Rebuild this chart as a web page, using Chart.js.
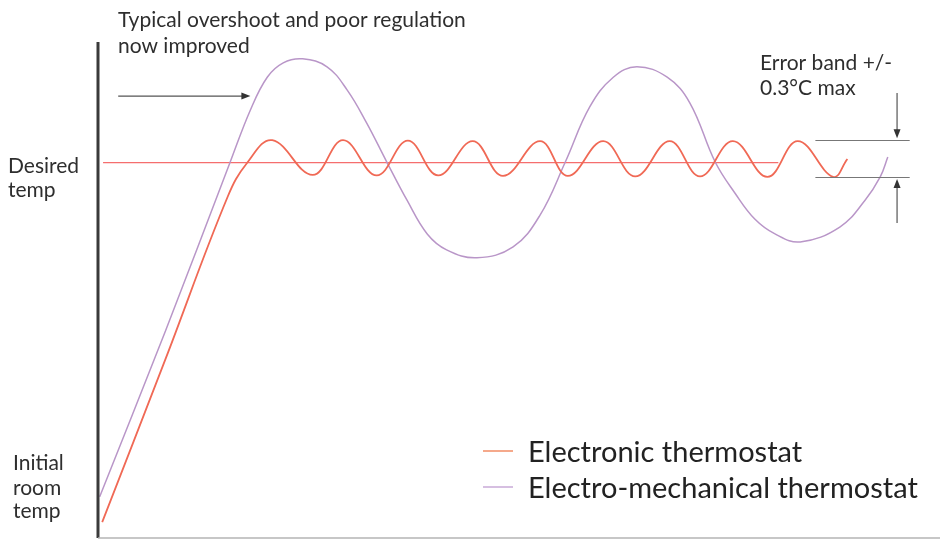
<!DOCTYPE html>
<html>
<head>
<meta charset="utf-8">
<script src="https://cdn.jsdelivr.net/npm/chart.js@4"></script>
<style>
html, body { margin: 0; padding: 0; background: #fff; }
#wrap { width: 940px; height: 541px; }
</style>
</head>
<body>
<div id="wrap"><canvas id="myLineChart" width="940" height="541"></canvas></div>
<script>
// time runs 0..100 along the bottom, temperature 0..100 up the side (arbitrary units)
var electronicTime = [0.5, 8.0, 15.4, 17.7, 20.7, 25.5, 29.1, 33.1, 36.8, 40.4, 44.5, 48.1, 52.5, 55.8, 60.0, 63.8, 67.9, 71.5, 75.4, 79.5, 83.1, 87.3, 89.0];
var electronicTemp = [3.2, 36.0, 68.8, 75.6, 80.2, 73.2, 80.2, 73.1, 80.1, 73.1, 80.0, 73.0, 80.0, 73.0, 80.0, 72.9, 80.0, 72.9, 80.0, 72.8, 80.0, 72.8, 76.4];

var mechanicalTime = [0.2, 8.0, 15.7, 18.1, 20.1, 22.0, 24.3, 27.2, 29.6, 31.9, 34.3, 36.7, 39.1, 41.4, 45.0, 49.3,
	52.5, 55.5, 58.4, 61.2, 64.0, 67.6, 70.3, 73.3, 75.7, 78.0, 80.4, 83.4, 88.1, 91.1, 92.9, 93.8];
var mechanicalTemp = [8.3, 41.7, 75.8, 86.3, 92.9, 95.8, 96.6, 95.0, 90.3, 83.7, 75.8, 68.1, 61.3, 58.1, 56.5, 58.7,
	65.1, 75.8, 86.9, 92.9, 95.0, 92.9, 87.7, 75.8, 69.4, 64.3, 61.3, 59.7, 62.7, 68.1, 72.8, 76.8];

var desiredTime = [0.6, 80.8];
var desiredTemp = [75.7, 75.7];

var errorBand = [72.8, 80.2];
var seriesLabels = ['Electronic thermostat', 'Electro-mechanical thermostat'];
var axisLabels = [['Desired', 'temp'], ['Initial', 'room', 'temp']];

function toPoints(xs, ys) {
	return xs.map(function (x, i) { return { x: x, y: ys[i] }; });
}

function arrow(c, x1, y1, x2, y2) {
	var ang = Math.atan2(y2 - y1, x2 - x1);
	c.beginPath();
	c.moveTo(x1, y1);
	c.lineTo(x2 - 6 * Math.cos(ang), y2 - 6 * Math.sin(ang));
	c.stroke();
	c.beginPath();
	c.moveTo(x2, y2);
	c.lineTo(x2 - 9 * Math.cos(ang) + 3.5 * Math.sin(ang), y2 - 9 * Math.sin(ang) - 3.5 * Math.cos(ang));
	c.lineTo(x2 - 9 * Math.cos(ang) - 3.5 * Math.sin(ang), y2 - 9 * Math.sin(ang) + 3.5 * Math.cos(ang));
	c.closePath();
	c.fill();
}

var overlay = {
	id: 'overlay',
	afterDatasetsDraw: function (chart) {
		var c = chart.ctx, a = chart.chartArea, xs = chart.scales.x, ys = chart.scales.y;
		c.save();
		// axes
		c.strokeStyle = '#3a3a3a';
		c.lineWidth = 3;
		c.beginPath(); c.moveTo(a.left, a.top); c.lineTo(a.left, a.bottom); c.stroke();
		c.strokeStyle = '#b4b4b4';
		c.lineWidth = 1.5;
		c.beginPath(); c.moveTo(a.left, a.bottom); c.lineTo(a.right, a.bottom); c.stroke();

		// error band
		c.strokeStyle = '#777';
		c.fillStyle = '#333';
		c.lineWidth = 1.2;
		var bx1 = xs.getPixelForValue(85.2), bx2 = xs.getPixelForValue(96.4), ax = xs.getPixelForValue(94.9);
		errorBand.forEach(function (v) {
			var y = Math.round(ys.getPixelForValue(v)) + 0.5;
			c.beginPath(); c.moveTo(bx1, y); c.lineTo(bx2, y); c.stroke();
		});
		c.strokeStyle = '#555';
		arrow(c, ax, ys.getPixelForValue(89.7), ax, ys.getPixelForValue(errorBand[1]) - 2);
		arrow(c, ax, ys.getPixelForValue(63.5), ax, ys.getPixelForValue(errorBand[0]) + 2);
		// overshoot arrow
		arrow(c, xs.getPixelForValue(2.4), ys.getPixelForValue(89.1), xs.getPixelForValue(18.1), ys.getPixelForValue(89.1));

		// notes
		c.fillStyle = '#2e2e2e';
		c.font = '21px Lato';
		c.textBaseline = 'alphabetic';
		c.fillText('Typical overshoot and poor regulation', 118, 27);
		c.fillText('now improved', 118, 53);
		c.fillText('Error band +/-', 760, 70);
		c.fillText('0.3\u00B0C max', 760, 95);
		c.fillText(axisLabels[0][0], 8, 173);
		c.fillText(axisLabels[0][1], 8, 197);
		c.fillText(axisLabels[1][0], 13, 470);
		c.fillText(axisLabels[1][1], 13, 495);
		c.fillText(axisLabels[1][2], 13, 518);

		// legend
		var legendY = [451, 487];
		c.font = '29px Lato';
		chart.data.datasets.slice(0, 2).forEach(function (ds, i) {
			c.strokeStyle = ds.legendColor;
			c.lineWidth = 1.5;
			c.beginPath(); c.moveTo(483, legendY[i]); c.lineTo(513, legendY[i]); c.stroke();
			c.fillStyle = '#222';
			c.fillText(seriesLabels[i], 528, legendY[i] + 11);
		});
		c.restore();
	}
};

var ctx = document.getElementById('myLineChart');
var myLineChart = new Chart(ctx, {
	type: 'line',
	data: {
		datasets: [
			{
				label: seriesLabels[0],
				data: toPoints(electronicTime, electronicTemp),
				borderColor: 'rgb(240,105,85)',
				legendColor: 'rgb(242,140,100)',
				borderWidth: 1.8,
				pointRadius: 0,
				tension: 0.4,
			},
			{
				label: seriesLabels[1],
				data: toPoints(mechanicalTime, mechanicalTemp),
				borderColor: 'rgb(185,150,200)',
				legendColor: 'rgb(200,170,215)',
				borderWidth: 1.5,
				pointRadius: 0,
				tension: 0.4,
			},
			{
				label: 'Desired temp',
				data: toPoints(desiredTime, desiredTemp),
				borderColor: 'rgb(245,110,110)',
				borderWidth: 1.3,
				pointRadius: 0,
			},
		],
	},
	options: {
		responsive: false,
		animation: false,
		devicePixelRatio: 1,
		layout: {
			padding: { left: 98, top: 42, right: 0, bottom: 3 },
		},
		plugins: {
			legend: { display: false },
			tooltip: { enabled: false },
		},
		scales: {
			x: { type: 'linear', min: 0, max: 100, display: false },
			y: { type: 'linear', min: 0, max: 100, display: false },
		},
	},
	plugins: [overlay],
});
</script>
</body>
</html>
